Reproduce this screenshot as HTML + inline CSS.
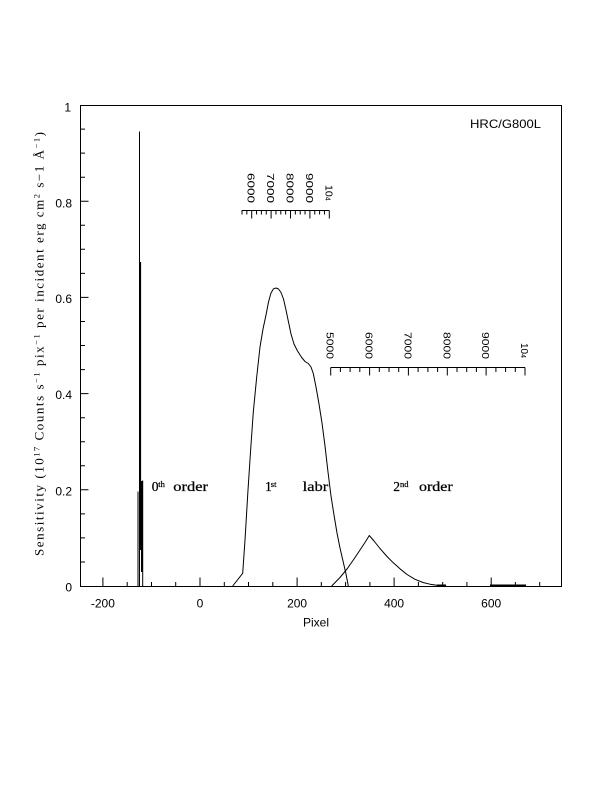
<!DOCTYPE html>
<html>
<head>
<meta charset="utf-8">
<style>
html,body{margin:0;padding:0;background:#fff;}
svg{display:block;}
text{fill:#000;}
.s{font-family:"Liberation Sans",sans-serif;}
.r{font-family:"Liberation Serif",serif;}
</style>
</head>
<body>
<svg width="612" height="792" viewBox="0 0 612 792" xmlns="http://www.w3.org/2000/svg">
<rect width="612" height="792" fill="#fff"/>
<!-- axes box -->
<rect x="80.5" y="105.5" width="481" height="481" fill="none" stroke="#000" stroke-width="1"/>

<!-- x ticks -->
<g stroke="#000" stroke-width="1">
<path d="M102.9,586.5v-9 M127.2,586.5v-4.5 M151.5,586.5v-4.5 M175.7,586.5v-4.5 M200,586.5v-9 M224.3,586.5v-4.5 M248.5,586.5v-4.5 M272.8,586.5v-4.5 M297.1,586.5v-9 M321.3,586.5v-4.5 M345.6,586.5v-4.5 M369.9,586.5v-4.5 M394.1,586.5v-9 M418.4,586.5v-4.5 M442.7,586.5v-4.5 M466.9,586.5v-4.5 M491.2,586.5v-9 M515.4,586.5v-4.5 M539.7,586.5v-4.5"/>
<!-- y ticks -->
<path d="M80.5,562h4.5 M80.5,537.9h4.5 M80.5,513.9h4.5 M80.5,489.8h8 M80.5,465.8h4.5 M80.5,441.7h4.5 M80.5,417.7h4.5 M80.5,393.6h8 M80.5,369.6h4.5 M80.5,345.5h4.5 M80.5,321.5h4.5 M80.5,297.4h8 M80.5,273.4h4.5 M80.5,249.3h4.5 M80.5,225.3h4.5 M80.5,201.2h8 M80.5,177.2h4.5 M80.5,153.1h4.5 M80.5,129.1h4.5"/>
</g>

<!-- tick labels -->
<g class="s" font-size="12">
<text x="102.9" y="607.5" text-anchor="middle">-200</text>
<text x="200" y="607.5" text-anchor="middle">0</text>
<text x="297.1" y="607.5" text-anchor="middle">200</text>
<text x="394.1" y="607.5" text-anchor="middle">400</text>
<text x="491.2" y="607.5" text-anchor="middle">600</text>
<text x="72" y="591.5" text-anchor="end">0</text>
<text x="72" y="495.3" text-anchor="end">0.2</text>
<text x="72" y="399.1" text-anchor="end">0.4</text>
<text x="72" y="303" text-anchor="end">0.6</text>
<text x="72" y="207.5" text-anchor="end">0.8</text>
<text x="71" y="111.5" text-anchor="end">1</text>
<text x="303" y="626.5">Pixel</text>
<text x="470" y="128" textLength="71" lengthAdjust="spacingAndGlyphs">HRC/G800L</text>
</g>

<!-- y axis label -->
<text class="r" font-size="13" transform="translate(43.5,556) rotate(-90)" textLength="424" lengthAdjust="spacing">Sensitivity (10<tspan dy="-4" font-size="8.5">17</tspan><tspan dy="4"> Counts s</tspan><tspan dy="-4" font-size="8.5">−1</tspan><tspan dy="4"> pix</tspan><tspan dy="-4" font-size="8.5">−1</tspan><tspan dy="4"> per incident erg cm</tspan><tspan dy="-4" font-size="8.5">2</tspan><tspan dy="4"> s−1 Å</tspan><tspan dy="-4" font-size="8.5">−1</tspan><tspan dy="4">)</tspan></text>

<!-- order labels -->
<g class="r" stroke="#000" stroke-width="0.25">
<text x="151.7" y="491" font-size="13.5">0</text>
<text x="158.3" y="487" font-size="8.5">th</text>
<text x="173.3" y="491" font-size="13.5" textLength="34.7" lengthAdjust="spacingAndGlyphs">order</text>
<text x="265" y="491" font-size="13.5">1</text>
<text x="270.8" y="487" font-size="8.5">st</text>
<text x="302.7" y="491" font-size="13.5" textLength="25.6" lengthAdjust="spacingAndGlyphs">labr</text>
<text x="393.3" y="491" font-size="13.5">2</text>
<text x="400" y="487" font-size="8.5">nd</text>
<text x="419" y="491" font-size="13.5" textLength="33.7" lengthAdjust="spacingAndGlyphs">order</text>
</g>

<!-- wavelength scale 1 (first order) -->
<g stroke="#000" stroke-width="1" fill="none">
<path d="M241.7,210.5H329.3"/>
<path d="M242,210.5v4 M246.85,210.5v4 M251.7,210.5v8 M256.55,210.5v4 M261.4,210.5v4 M266.25,210.5v4 M271.1,210.5v8 M275.95,210.5v4 M280.8,210.5v4 M285.65,210.5v4 M290.5,210.5v8 M295.35,210.5v4 M300.2,210.5v4 M305.05,210.5v4 M309.9,210.5v8 M314.75,210.5v4 M319.6,210.5v4 M324.45,210.5v4 M329.3,210.5v8"/>
</g>
<g class="s" font-size="10.5">
<text transform="translate(247.7,203) rotate(90)" text-anchor="end" textLength="30" lengthAdjust="spacingAndGlyphs">6000</text>
<text transform="translate(267.1,203) rotate(90)" text-anchor="end" textLength="30" lengthAdjust="spacingAndGlyphs">7000</text>
<text transform="translate(286.5,203) rotate(90)" text-anchor="end" textLength="30" lengthAdjust="spacingAndGlyphs">8000</text>
<text transform="translate(305.9,203) rotate(90)" text-anchor="end" textLength="30" lengthAdjust="spacingAndGlyphs">9000</text>
<text transform="translate(325.3,185) rotate(90)">10<tspan font-size="7">4</tspan></text>
</g>

<!-- wavelength scale 2 (second order) -->
<g stroke="#000" stroke-width="1" fill="none">
<path d="M330.7,367.5H525"/>
<path d="M330.7,367.5v8 M340.4,367.5v4.5 M350.1,367.5v4.5 M359.8,367.5v4.5 M369.6,367.5v8 M379.3,367.5v4.5 M389,367.5v4.5 M398.7,367.5v4.5 M408.4,367.5v8 M418.1,367.5v4.5 M427.9,367.5v4.5 M437.6,367.5v4.5 M447.3,367.5v8 M457,367.5v4.5 M466.7,367.5v4.5 M476.4,367.5v4.5 M486.1,367.5v8 M495.9,367.5v4.5 M505.6,367.5v4.5 M515.3,367.5v4.5 M525,367.5v8"/>
</g>
<g class="s" font-size="10">
<text transform="translate(326.7,359) rotate(90)" text-anchor="end" textLength="27" lengthAdjust="spacingAndGlyphs">5000</text>
<text transform="translate(365.6,359) rotate(90)" text-anchor="end" textLength="27" lengthAdjust="spacingAndGlyphs">6000</text>
<text transform="translate(404.4,359) rotate(90)" text-anchor="end" textLength="27" lengthAdjust="spacingAndGlyphs">7000</text>
<text transform="translate(443.3,359) rotate(90)" text-anchor="end" textLength="27" lengthAdjust="spacingAndGlyphs">8000</text>
<text transform="translate(482.1,359) rotate(90)" text-anchor="end" textLength="27" lengthAdjust="spacingAndGlyphs">9000</text>
<text transform="translate(521,343) rotate(90)">10<tspan font-size="7">4</tspan></text>
</g>

<!-- zeroth order spike -->
<g stroke="#000" fill="none" stroke-width="1">
<path d="M139.5,586V131.5"/>
<path d="M138,586V491.5"/>
<path d="M142.7,586V480.5"/>
</g>
<rect x="139.5" y="262" width="1.6" height="288" fill="#000"/>
<rect x="141" y="481" width="1.8" height="91" fill="#000"/>

<!-- first order curve -->
<path fill="none" stroke="#000" stroke-width="1" stroke-linejoin="round" d="M232.7,586 L242.7,573.3 L245,540 L248,490 L250.5,452 L253.3,412 L256.7,377 L260,347 L263,329 L266,315 L268.5,302 L271,293 L273.5,288.8 L276,288 L278.5,289 L281,292.5 L283.5,299 L286,310 L288.5,322 L291,334 L294,344 L297.5,351 L301.7,357.5 L305,361.5 L308.3,363.5 L311,367 L313.3,373.5 L316,387 L319,404 L322,423 L325,446 L328,472 L331,496 L334,515 L337,533 L340,548 L343,561 L346,574 L348.3,586"/>

<!-- second order curve -->
<path fill="none" stroke="#000" stroke-width="1" stroke-linejoin="round" d="M331.7,586 L340,577.5 L347,569 L354,559 L360,550 L365,542.5 L369.3,535.5 L374,541 L380,548.5 L387,556.5 L393.3,562.8 L400,568.8 L407,574.5 L415,579.3 L423,582.5 L430,584.2 L437,585.3 L445,586"/>
<path d="M437,585.5H446 M490,585.5H526" stroke="#000" stroke-width="2" fill="none"/>
</svg>
</body>
</html>
